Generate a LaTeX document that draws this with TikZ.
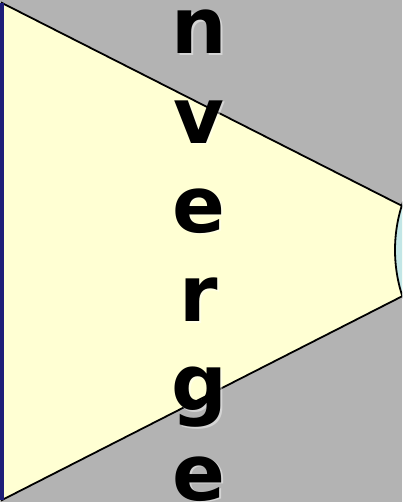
\documentclass[tikz,border=0pt]{standalone}
\usepackage{fontspec}
\setsansfont{DejaVu Sans}
\usetikzlibrary{positioning}
\definecolor{bggray}{HTML}{B3B3B3}
\definecolor{lightcream}{HTML}{FFFFD3}
\definecolor{paleaqua}{HTML}{C2E6E6}
\definecolor{edgenavy}{HTML}{1E1E78}

\tikzset{
    letter/.style={anchor=base, inner sep=0pt, font=\sffamily\bfseries\fontsize{78bp}{89bp}\selectfont, text=black},
    glow/.style={letter, text=white, opacity=0.45}
}

\begin{document}
\begin{tikzpicture}[x=1bp, y=-1bp]
    \useasboundingbox (0, 0) rectangle (402, 502);
    \clip (0, 0) rectangle (402, 502);
    \fill[bggray] (0, 0) rectangle (402, 502);

    % funnel and lens
    \filldraw[fill=lightcream, draw=black, line width=1.8bp] (2, 3) -- (491, 251) -- (2, 500) -- cycle;
    \draw[edgenavy, line width=3.5bp] (1.75, 3) -- (1.75, 500);
    \filldraw[fill=paleaqua, draw=black, line width=1.8bp] (543, 250) circle (148);

    % vertical letters
    \foreach \ch [count=\i] in {n,v,e,r,g,e} {
        \node[glow] (shadow\i) at (201, {54 + (\i-1)*89.2 + 1.5}) {\ch};
        \node[letter] (letter\i) at (199, {54 + (\i-1)*89.2}) {\ch};
    }
\end{tikzpicture}
\end{document}
